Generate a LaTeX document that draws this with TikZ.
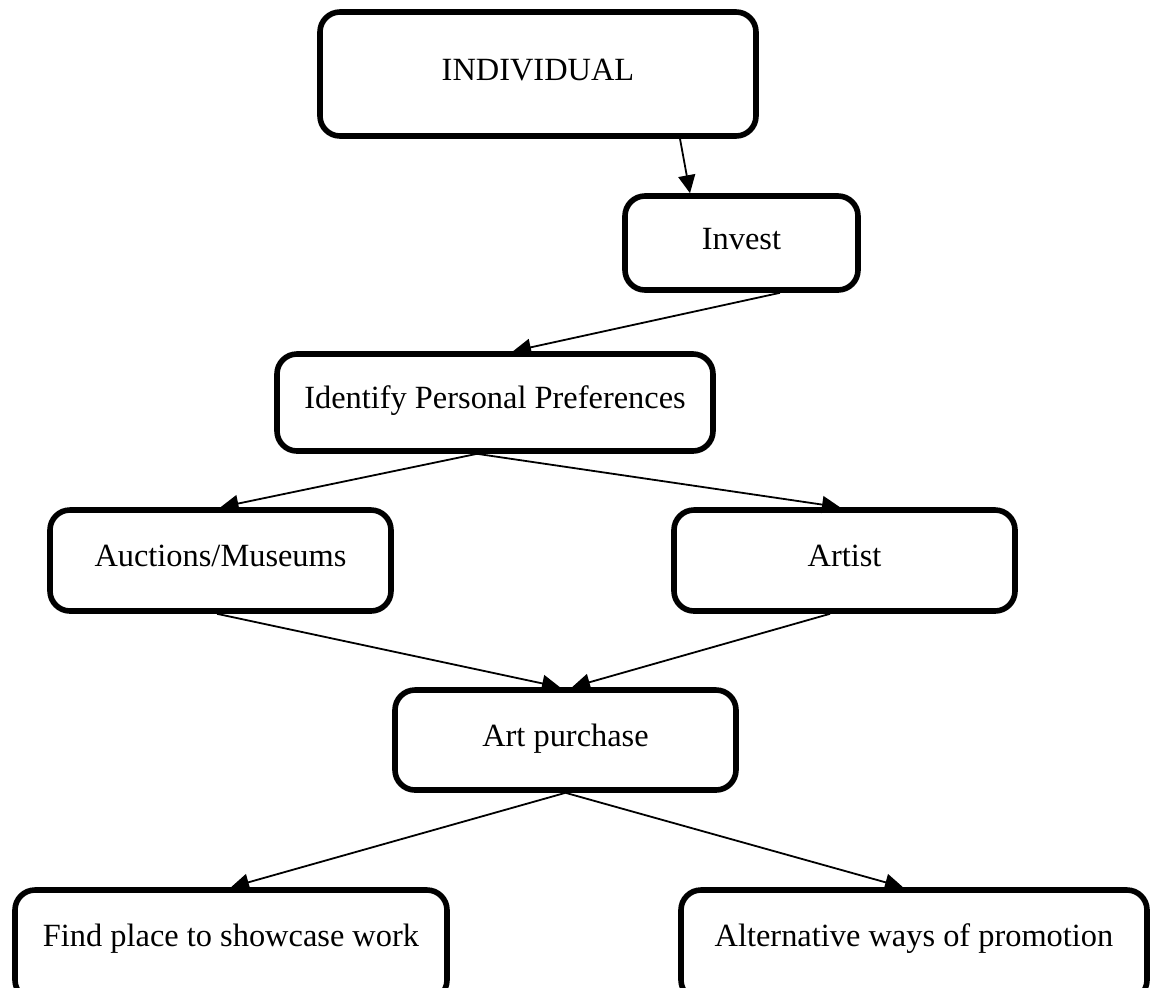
\documentclass[tikz,border=0pt]{standalone}
\usepackage{fontspec}
\setmainfont{Liberation Serif}
\usetikzlibrary{arrows.meta,calc}
\begin{document}
\begin{tikzpicture}[x=0.5pt,y=-0.5pt,
  box/.style={draw=black,line width=2.8pt,rounded corners=10pt,inner sep=0pt,
    text height=10.8pt,text depth=4.4pt,font=\fontsize{16.2}{19}\selectfont},
  lowbox/.style={box,text depth=9.4pt},
  arr/.style={draw=black,line width=0.9pt,-{Triangle[length=9pt,width=8.5pt]}}]
\clip (0,0) rectangle (1151,987);
\useasboundingbox (0,0) rectangle (1151,987);
\node[box,minimum width=218pt,minimum height=62pt] (ind) at (538,74) {INDIVIDUAL};
\node[box,minimum width=116.5pt,minimum height=47pt] (inv) at (741.5,243) {Invest};
\node[box,minimum width=218pt,minimum height=48.5pt] (ipp) at (495,402.5) {Identify Personal Preferences};
\node[box,minimum width=170.5pt,minimum height=50.5pt] (auc) at (220.5,560.5) {Auctions/Museums};
\node[box,minimum width=170.5pt,minimum height=50.5pt] (art) at (844.5,560.5) {Artist};
\node[box,minimum width=170.5pt,minimum height=50pt] (pur) at (565.5,740) {Art purchase};
\node[lowbox,minimum width=216pt,minimum height=55pt] (fin) at (231,945) {Find place to showcase work};
\node[lowbox,minimum width=233pt,minimum height=55pt] (alt) at (914,945) {Alternative ways of promotion};
\draw[arr] ($(ind.south)+(142,0)$) -- ($(inv.north)+(-51.5,0)$);
\draw[arr] ($(inv.south)+(38.5,0)$) -- ($(ipp.north)+(18,0)$);
\draw[arr] ($(ipp.south)+(-18,0)$) -- (auc.north);
\draw[arr] ($(ipp.south)+(-18,0)$) -- ($(art.north)+(-4.5,0)$);
\draw[arr] ($(auc.south)+(-3.5,0)$) -- ($(pur.north)+(-5.5,0)$);
\draw[arr] ($(art.south)+(-14.5,0)$) -- ($(pur.north)+(6.5,0)$);
\draw[arr] (pur.south) -- (fin.north);
\draw[arr] (pur.south) -- ($(alt.north)+(-11,0)$);
\end{tikzpicture}
\end{document}
